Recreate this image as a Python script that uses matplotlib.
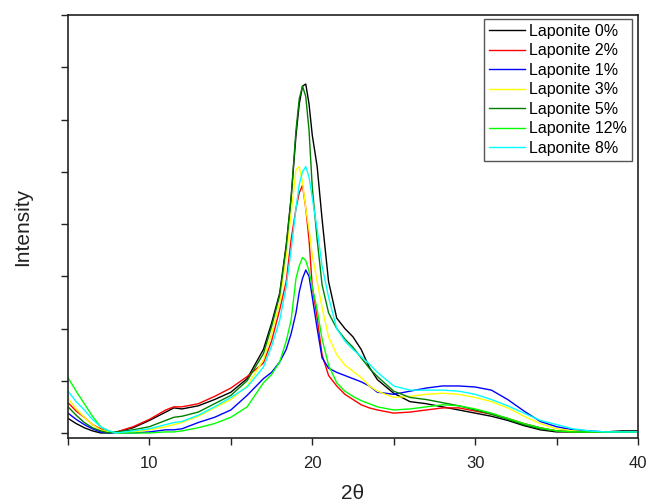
import matplotlib
matplotlib.use("Agg")
import matplotlib.pyplot as plt
from matplotlib.ticker import MultipleLocator, FixedLocator

plt.rcParams['font.family'] = ['Liberation Sans', 'DejaVu Sans']

# 2-theta grid (finer around the main peak)
two_theta = [5, 5.5, 6, 6.5, 7, 7.5, 8, 9, 10, 11, 11.5, 12, 13, 14, 15, 16, 17, 17.5,
             18, 18.4, 18.7, 19.0, 19.2, 19.4, 19.6, 19.8, 20.0, 20.3, 20.6, 21.0, 21.5,
             22, 22.5, 23, 23.5, 24, 25, 26, 27, 28, 29, 30, 31, 32, 33, 34, 35, 36, 37,
             38, 39, 40]

# intensities (arbitrary units) per laponite content
lap_0 = [14, 9, 5, 2, 0, 0, 1, 5, 12, 20, 24, 23, 26, 32, 39, 52, 80, 105,
         134, 180, 225, 285, 315, 332, 334, 315, 285, 255, 205, 145, 110,
         100, 92, 80, 63, 51, 38, 30, 28, 25, 22, 19, 16, 12, 7, 3, 1, 1, 1,
         1, 2, 2]
lap_2 = [29, 21, 15, 8, 4, 1, 1, 6, 13, 22, 25, 25, 28, 35, 43, 54, 67, 88,
         118, 145, 185, 215, 230, 237, 215, 185, 140, 110, 75, 55, 45,
         37, 32, 27, 24, 22, 19, 20, 22, 24, 24, 21, 18, 14, 9, 5, 2, 1, 1,
         1, 1, 1]
lap_1 = [19, 13, 8, 4, 1, 0, 0, 0, 1, 3, 3, 4, 10, 15, 22, 36, 52, 58,
         68, 80, 95, 115, 135, 148, 156, 150, 130, 100, 72, 62, 58,
         55, 52, 49, 45, 39, 37, 40, 43, 45, 45, 44, 41, 32, 21, 11, 6, 3, 2,
         1, 1, 1]
lap_3 = [33, 23, 15, 8, 3, 1, 0, 1, 3, 6, 8, 10, 16, 24, 32, 45, 70, 95,
         125, 170, 210, 252, 255, 240, 215, 195, 170, 145, 120, 92, 75,
         65, 59, 53, 45, 40, 34, 35, 37, 38, 37, 34, 30, 24, 16, 9, 4, 2, 1,
         1, 1, 1]
lap_5 = [25, 17, 10, 5, 2, 0, 1, 3, 6, 12, 15, 16, 20, 28, 36, 50, 76, 102,
         132, 178, 225, 290, 320, 332, 322, 290, 235, 185, 142, 115, 100,
         90, 82, 72, 62, 54, 40, 34, 32, 29, 26, 22, 18, 13, 8, 4, 2, 1, 1,
         1, 1, 1]
lap_12 = [53, 40, 28, 16, 6, 2, 0, 0, 0, 1, 1, 2, 5, 9, 15, 25, 48, 56,
          68, 88, 108, 148, 160, 168, 165, 155, 140, 118, 90, 65, 48,
          40, 35, 31, 28, 25, 22, 23, 25, 27, 26, 23, 19, 14, 9, 5, 2, 1, 1,
          1, 1, 1]
lap_8 = [40, 30, 22, 13, 6, 2, 0, 2, 4, 8, 10, 11, 17, 25, 34, 44, 63, 83,
         108, 140, 175, 215, 238, 250, 255, 245, 225, 195, 160, 130, 100,
         88, 80, 73, 66, 58, 45, 41, 41, 41, 40, 37, 32, 26, 19, 12, 8, 4, 2,
         1, 1, 1]

series = [
    ('Laponite 0%', lap_0, 'black'),
    ('Laponite 2%', lap_2, '#ff0000'),
    ('Laponite 1%', lap_1, '#0000ff'),
    ('Laponite 3%', lap_3, '#ffff00'),
    ('Laponite 5%', lap_5, '#008000'),
    ('Laponite 12%', lap_12, '#00ff00'),
    ('Laponite 8%', lap_8, '#00ffff'),
]

fig = plt.figure(figsize=(6.49, 5.04), dpi=100)
ax = fig.add_axes([0.1048, 0.131, 0.8782, 0.839])

for name, vals, col in series:
    ax.plot(two_theta, vals, color=col, lw=1.0, label=name)

ax.set_xlim(5, 40)
ax.set_ylim(-4.8, 400)

ax.xaxis.set_major_locator(FixedLocator([10, 20, 30, 40]))
ax.xaxis.set_minor_locator(FixedLocator([5, 15, 25, 35]))
ax.yaxis.set_major_locator(MultipleLocator(100))
ax.yaxis.set_minor_locator(MultipleLocator(50))
ax.set_yticklabels([])
ax.tick_params(which='both', direction='out', length=5, width=1, colors='#222222',
               top=False, right=False)
ax.tick_params(axis='x', labelsize=12, pad=8, labelcolor='#222222')

for s in ax.spines.values():
    s.set_linewidth(1.2)
    s.set_color('#222222')

ax.set_xlabel('2θ', fontsize=15, labelpad=9, color='#222222')
ax.set_ylabel('Intensity', fontsize=15, labelpad=17, color='#222222')

leg = ax.legend(loc='upper right', bbox_to_anchor=(0.989, 0.9905), borderaxespad=0,
                fontsize=11.5, handlelength=2.25, handletextpad=0.25, labelspacing=0.28,
                fancybox=False, framealpha=1, edgecolor='#555555', borderpad=0.3)
leg.get_frame().set_linewidth(1.0)

fig.savefig('out.png', dpi=100)
